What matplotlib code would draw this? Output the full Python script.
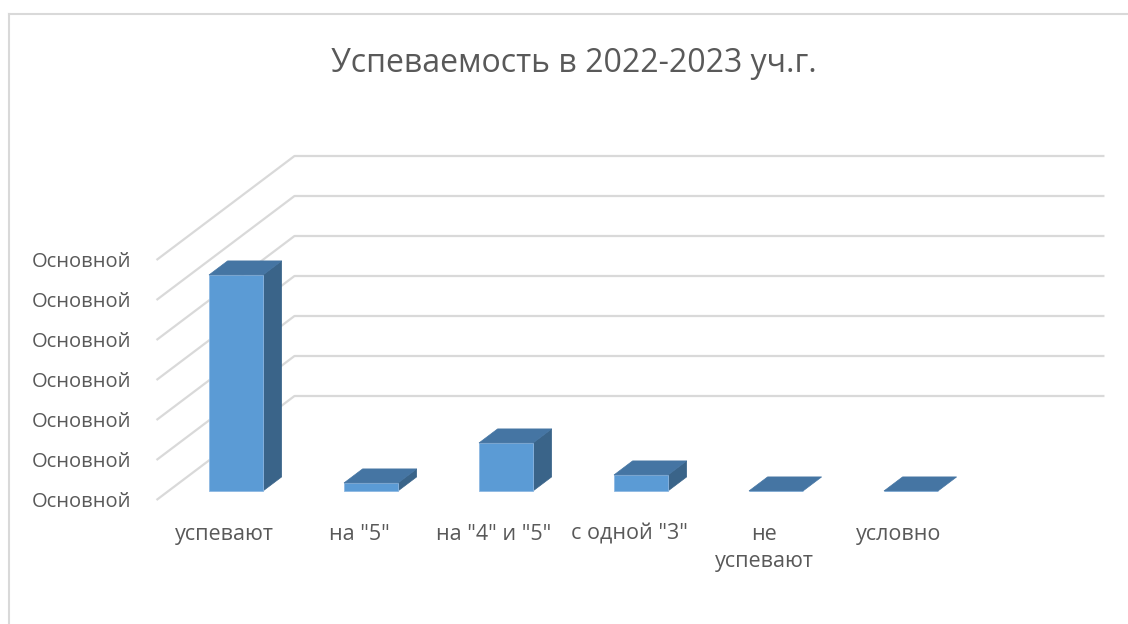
import matplotlib
matplotlib.use("Agg")
import matplotlib.pyplot as plt
from matplotlib.patches import Polygon
from matplotlib.lines import Line2D

categories = ['успевают', 'на "5"', 'на "4" и "5"', 'с одной "3"', 'не\nуспевают', 'условно']
values = [27, 1, 6, 2, 0, 0]
tick_values = [0, 5, 10, 15, 20, 25, 30]
tick_labels = ['Основной'] * len(tick_values)
title = 'Успеваемость в 2022-2023 уч.г.'

plt.rcParams['font.family'] = ['Open Sans', 'DejaVu Sans']
TXT = '#595959'
GRID = '#D9D9D9'

# oblique "3d": full floor depth in (category, value) units
DX, DY = 1.022, 13.0
D0, D1 = 0.087, 0.222   # front / back plane of the columns
W = 0.4


def proj(x, y, d):
    return x + d * DX, y + d * DY


fig = plt.figure(figsize=(11.28, 6.24), dpi=100)
ax = fig.add_axes([0, 0, 1, 1])
ax.set_xlim(-224 / 135, (1128 - 224) / 135)
ax.set_ylim((500 - 624) / 8, 500 / 8)
ax.axis('off')

# walls grid
x0, x1 = -0.5, len(categories) - 0.5
for v in tick_values:
    pts = [proj(x0, v, 0), proj(x0, v, 1), proj(x1, v, 1)]
    ax.plot([p[0] for p in pts], [p[1] for p in pts], color=GRID, lw=1.6,
            solid_capstyle='butt', zorder=1)

# columns
xs = [i + D0 * DX for i in range(len(categories))]
ax.bar(xs, values, width=W, bottom=D0 * DY, color='#5B9BD5',
       edgecolor='#8DB8E3', lw=0.6, zorder=3)
for i, v in enumerate(values):
    l, r = i - W / 2, i + W / 2
    top = [proj(l, v, D0), proj(r, v, D0), proj(r, v, D1), proj(l, v, D1)]
    ax.add_patch(Polygon(top, closed=True, fc='#4575A3', ec='#4575A3', lw=0.5, zorder=4))
    if v > 0:
        side = [proj(r, 0, D0), proj(r, v, D0), proj(r, v, D1), proj(r, 0, D1)]
        ax.add_patch(Polygon(side, closed=True, fc='#3A6489', ec='#3A6489', lw=0.5, zorder=2.5))

# labels
for i, c in enumerate(categories):
    ax.text(i, -3.0, c, ha='center', va='top', fontsize=15.5, color=TXT,
            linespacing=1.4)
for v, t in zip(tick_values, tick_labels):
    ax.text(x0 - 0.19, v - 0.25, t, ha='right', va='center', fontsize=14.5, color=TXT)

fig.text(574 / 1128, 1 - 64 / 624, title, ha='center', va='center',
         fontsize=23, color=TXT)

# chart area border
fig.add_artist(Line2D([9 / 1128, 9 / 1128], [0, 1 - 14 / 624], color=GRID, lw=1.5))
fig.add_artist(Line2D([9 / 1128, 1], [1 - 14 / 624, 1 - 14 / 624], color=GRID, lw=1.5))

fig.savefig('out.png', dpi=100, facecolor='white')
